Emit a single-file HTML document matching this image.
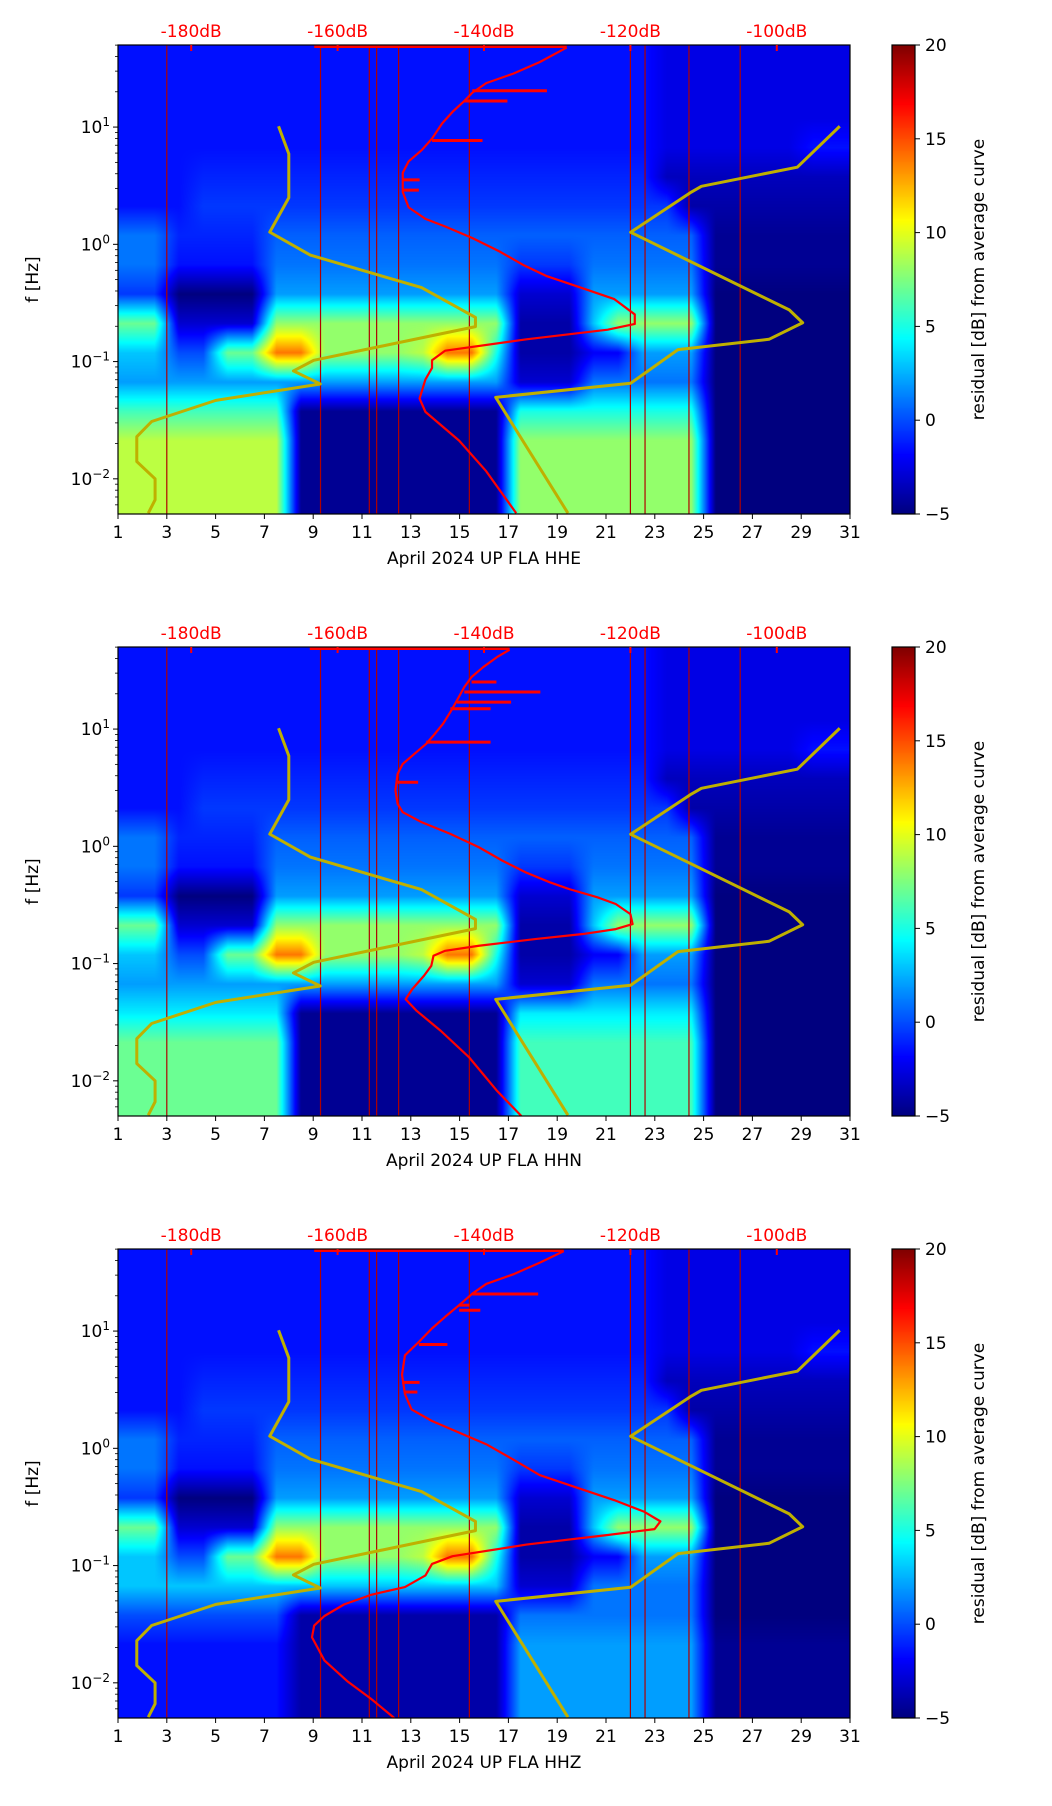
<!DOCTYPE html>
<html><head><meta charset="utf-8">
<style>
html,body{margin:0;padding:0;background:#fff;}
#root{position:relative;width:1052px;height:1806px;overflow:hidden;font-family:"DejaVu Sans","Liberation Sans",sans-serif;}
canvas{position:absolute;}
svg{position:absolute;left:0;top:0;}
</style></head>
<body>
<div id="root">
<svg id="ov" width="1052" height="1806"></svg>
</div>
<script>
// ---------- data ----------
const days = [1,3,5,7,9,11,13,15,17,19,21,23,25,27,29,31];
const yTickExp = [-2,-1,0,1];
const dbTicks = [-180,-160,-140,-120,-100];
const cbTicks = [-5,0,5,10,15,20];
const channels = ["HHE","HHN","HHZ"];
// row centers (log10 f) of residual grid, 30 day bins each
const rowLogF = [1.575,1.325,1.075,0.825,0.575,0.325,0.075,-0.175,-0.425,-0.675,-0.925,-1.175,-1.425,-1.675,-1.925,-2.175];
// run-length encoded residual rows [value,count] (upper rows shared)
const upperRows = [
 [[-1.5,22],[-2.5,8]],
 [[-1.5,22],[-2.5,8]],
 [[-1.5,22],[-2.5,8]],
 [[-1.5,22],[-2.5,6],[-1.5,2]],
 [[-1.5,3],[-1,19],[-3.5,8]],
 [[-1.5,3],[-0.5,20],[-4,7]],
 [[1,2],[-1,4],[0.5,18],[-4.5,6]],
 [[1,2],[-1.5,4],[1,10],[-0.5,3],[1,5],[-4.5,6]],
 [[-0.5,2],[-5,4],[2,10],[-3,3],[2,5],[-5,6]],
 [[7,2],[-3,4],[8,10],[-4,3],[3,1],[8,4],[-5,6]],
 [[3,2],[0,2],[7,2],[14,2],[8,4],[9,1],[14,2],[5,1],[-4,3],[-2,2],[2,3],[-5,6]]
];
const lowRowsHHE = [
 [[2,16],[-3,3],[1,5],[-5,6]],
 [[6,7],[-4.5,9],[5,8],[-5,6]],
 [[9,7],[-4.5,9],[8,8],[-5,6]],
 [[9,7],[-4.5,9],[8,8],[-5,6]],
 [[9,7],[-4.5,9],[8,8],[-5,6]]
];
const lowRowsHHN = [
 [[2,16],[-3,3],[1,5],[-5,6]],
 [[4,7],[-4.5,9],[4,8],[-5,6]],
 [[7,7],[-4.5,9],[6,8],[-5,6]],
 [[7,7],[-4.5,9],[6,8],[-5,6]],
 [[7,7],[-4.5,9],[6,8],[-5,6]]
];
const lowRowsHHZ = [
 [[3,16],[-3,3],[1,5],[-5,6]],
 [[0,7],[-4,9],[1,8],[-5,6]],
 [[-1.5,7],[-4,9],[2,8],[-4.5,6]],
 [[-1.5,7],[-4,9],[2,8],[-4.5,6]],
 [[-1.5,7],[-4,9],[2,8],[-4.5,6]]
];
const vLineDays = [3.0,9.3,11.3,11.6,12.5,15.4,22.0,22.6,24.4,26.5];
// yellow reference curves (day, log10 f)
const yelLeftDay = [7.58,8.0,8.0,7.22,8.88,13.44,15.65,15.65,9.02,8.19,9.29,5.01,2.38,1.77,1.77,2.52,2.52,2.24];
const yelLeftLogF = [1.007,0.772,0.397,0.104,-0.092,-0.369,-0.624,-0.702,-0.989,-1.080,-1.191,-1.331,-1.511,-1.641,-1.853,-2.0,-2.179,-2.293];
const yelRightDay = [30.58,28.84,24.91,24.5,22.01,28.51,29.06,27.68,23.95,22.01,16.48,19.44];
const yelRightLogF = [1.007,0.658,0.495,0.446,0.103,-0.559,-0.669,-0.810,-0.898,-1.185,-1.305,-2.293];
// red average PSD curves (dB, log10 f)
const redHHEdB = [-128.7,-132.4,-136.0,-139.7,-141.6,-142.7,-144.3,-145.7,-147.1,-148.5,-150.3,-151.1,-151.1,-150.3,-148.0,-145.3,-141.6,-137.9,-134.7,-131.4,-126.8,-122.2,-119.4,-119.4,-123.1,-134.2,-145.3,-147.1,-147.1,-148.0,-148.8,-148.0,-143.4,-139.7,-135.6];
const redHHELogF = [1.678,1.554,1.456,1.375,1.293,1.222,1.130,1.033,0.902,0.804,0.707,0.609,0.446,0.315,0.217,0.152,0.054,-0.060,-0.174,-0.272,-0.369,-0.467,-0.598,-0.679,-0.728,-0.810,-0.907,-0.989,-1.054,-1.152,-1.315,-1.429,-1.674,-1.935,-2.293];
const spikeHHEdB = [-131.4,-136.8,-140.2,-148.8,-148.9];
const spikeHHELogF = [1.31,1.222,0.886,0.55,0.462];
const redHHNdB = [-136.5,-138.2,-140.1,-141.7,-142.7,-143.7,-144.6,-145.6,-146.9,-147.9,-149.5,-151.1,-151.8,-152.1,-151.8,-151.1,-148.5,-144.6,-140.7,-137.5,-134.3,-131.0,-128.4,-124.5,-122.0,-120.0,-119.7,-122.0,-126.5,-133.0,-140.7,-145.3,-146.9,-147.2,-148.2,-149.8,-150.7,-149.2,-145.9,-142.0,-138.2,-134.9];
const redHHNLogF = [1.677,1.615,1.529,1.444,1.358,1.244,1.145,1.045,0.946,0.874,0.789,0.703,0.618,0.476,0.362,0.291,0.205,0.106,-0.008,-0.122,-0.222,-0.307,-0.364,-0.435,-0.492,-0.578,-0.663,-0.706,-0.748,-0.791,-0.848,-0.891,-0.933,-1.019,-1.104,-1.218,-1.304,-1.403,-1.574,-1.802,-2.087,-2.3];
const spikeHHNdB = [-138.3,-132.3,-136.3,-139.1,-139.1,-149.0];
const spikeHHNLogF = [1.401,1.316,1.230,1.173,0.889,0.547];
const redHHZdB = [-129.1,-132.4,-136.0,-139.7,-141.6,-143.4,-145.3,-147.1,-148.9,-150.8,-151.2,-150.8,-149.9,-147.1,-143.4,-139.7,-136.0,-132.4,-127.7,-122.2,-118.1,-115.9,-116.7,-123.1,-134.2,-144.3,-147.1,-148.0,-150.8,-155.4,-159.1,-161.8,-163.2,-163.5,-161.8,-158.6,-155.4,-152.2];
const redHHZLogF = [1.682,1.583,1.484,1.402,1.319,1.221,1.122,1.023,0.908,0.793,0.628,0.463,0.332,0.233,0.134,0.035,-0.096,-0.228,-0.327,-0.442,-0.541,-0.623,-0.689,-0.739,-0.821,-0.920,-0.986,-1.084,-1.183,-1.249,-1.331,-1.430,-1.512,-1.611,-1.809,-1.990,-2.138,-2.303];
const spikeHHZdB = [-132.6,-142.0,-140.5,-145.0,-148.8,-149.1];
const spikeHHZLogF = [1.316,1.221,1.178,0.885,0.562,0.480];
const topLineStart = [-163.2,-163.8,-163.2];

// ---------- layout ----------
const PL=118, PR=850, PH=469, tops=[45,647,1249];
const CBL=892, CBR=915;
const DAYMIN=1, DAYMAX=31, LFMIN=-2.3, LFMAX=1.7, DBMIN=-190, DBMAX=-90, VMIN=-5, VMAX=20;
const xDay = d => PL + (d-DAYMIN)/(DAYMAX-DAYMIN)*(PR-PL);
const xDb = v => PL + (v-DBMIN)/(DBMAX-DBMIN)*(PR-PL);
const yLf = (top,l) => top + (LFMAX-l)/(LFMAX-LFMIN)*PH;

function jet(v){
  let t=(v-VMIN)/(VMAX-VMIN); t=Math.max(0,Math.min(1,t));
  const f=x=>Math.max(0,Math.min(1,x));
  const r=f(Math.min(4*t-1.5,-4*t+4.5)), g=f(Math.min(4*t-0.5,-4*t+3.5)), b=f(Math.min(4*t+0.5,-4*t+2.5));
  return [r*255|0,g*255|0,b*255|0];
}
function expand(rle){const o=[];rle.forEach(([v,n])=>{for(let i=0;i<n;i++)o.push(v);});return o;}

const NS='http://www.w3.org/2000/svg';
const ov=document.getElementById('ov');
function el(tag,attrs,parent){const e=document.createElementNS(NS,tag);for(const k in attrs)e.setAttribute(k,attrs[k]);(parent||ov).appendChild(e);return e;}
function txt(s,attrs,parent){const e=el('text',attrs,parent);e.textContent=s;return e;}

const lowSets=[lowRowsHHE,lowRowsHHN,lowRowsHHZ];
const reds=[[redHHEdB,redHHELogF,spikeHHEdB,spikeHHELogF],[redHHNdB,redHHNLogF,spikeHHNdB,spikeHHNLogF],[redHHZdB,redHHZLogF,spikeHHZdB,spikeHHZLogF]];
const root=document.getElementById('root');

channels.forEach((ch,pi)=>{
  const top=tops[pi];
  const grid=upperRows.concat(lowSets[pi]).map(expand);
  const cv=document.createElement('canvas');
  cv.width=PR-PL; cv.height=PH;
  cv.style.left=PL+'px'; cv.style.top=top+'px';
  
  
  root.insertBefore(cv,ov);
  const ctx=cv.getContext('2d');
  const img=ctx.createImageData(cv.width,cv.height);
  for(let py=0;py<cv.height;py++){
    const lf=LFMAX-(py+0.5)/PH*(LFMAX-LFMIN);
    let ri=(rowLogF[0]-lf)/(rowLogF[0]-rowLogF[1]);
    ri=Math.max(0,Math.min(rowLogF.length-1,ri));
    const r0=Math.floor(ri), r1=Math.min(rowLogF.length-1,r0+1), fr=ri-r0;
    for(let px=0;px<cv.width;px++){
      const d=(px+0.5)/cv.width*30-0.5;
      let c0=Math.max(0,Math.min(29,Math.floor(d))), c1=Math.min(29,c0+1), fc=Math.max(0,Math.min(1,d-c0));
      const v=(grid[r0][c0]*(1-fc)+grid[r0][c1]*fc)*(1-fr)+(grid[r1][c0]*(1-fc)+grid[r1][c1]*fc)*fr;
      const [r,g,b]=jet(v); const k=(py*cv.width+px)*4;
      img.data[k]=r;img.data[k+1]=g;img.data[k+2]=b;img.data[k+3]=255;
    }
  }
  ctx.putImageData(img,0,0);

  const g=el('g',{});
  
  
  const clipId='clip'+pi;
  const cp=el('clipPath',{id:clipId},g); el('rect',{x:PL,y:top,width:PR-PL,height:PH},cp);
  const inner=el('g',{'clip-path':'url(#'+clipId+')'},g);
  vLineDays.forEach(d=>{
    const l=el('line',{x1:xDay(d),x2:xDay(d),y1:top,y2:top+PH,stroke:'#b00000','stroke-width':1.2},inner);
    
    
  });
  [[yelLeftDay,yelLeftLogF],[yelRightDay,yelRightLogF]].forEach(([ds,ls],k)=>{
    const pts=ds.map((d,i)=>xDay(d)+','+yLf(top,ls[i])).join(' ');
    const p=el('polyline',{points:pts,fill:'none',stroke:'#bfb000','stroke-width':3,'stroke-linejoin':'round'},inner);
    
    
  });
  const [rd,rl,sd,sl]=reds[pi];
  const topL=el('line',{x1:xDb(topLineStart[pi]),x2:xDb(rd[0]),y1:top+1.5,y2:top+1.5,stroke:'#ff0000','stroke-width':3},inner);
  
  
  const rp=el('polyline',{points:rd.map((v,i)=>xDb(v)+','+yLf(top,rl[i])).join(' '),fill:'none',stroke:'#ff0000','stroke-width':2.2,'stroke-linejoin':'round'},inner);
  
  
  sd.forEach((v,i)=>{
    let best=0,bd=1e9; rl.forEach((l,j)=>{const dd=Math.abs(l-sl[i]);if(dd<bd){bd=dd;best=j;}});
    const s=el('line',{x1:xDb(rd[best]),x2:xDb(v),y1:yLf(top,sl[i]),y2:yLf(top,sl[i]),stroke:'#ff0000','stroke-width':3},inner);
    
    
  });
  const fr=el('rect',{x:PL,y:top,width:PR-PL,height:PH,fill:'none',stroke:'#000','stroke-width':1.2},g);
  
  
  days.forEach(d=>{
    el('line',{x1:xDay(d),x2:xDay(d),y1:top+PH,y2:top+PH+5,stroke:'#000','stroke-width':1},g);
    const t=txt(String(d),{x:xDay(d),y:top+PH+24,'font-size':17,'text-anchor':'middle',fill:'#000'},g);
    
    
  });
  const xl=txt('April 2024 UP FLA  '+ch,{x:(PL+PR)/2,y:top+PH+50,'font-size':17,'text-anchor':'middle',fill:'#000','xml:space':'preserve'},g);
  
  
  for(let e=-3;e<=1;e++){
    for(let m=1;m<10;m++){
      const l=e+Math.log10(m); if(l<LFMIN||l>LFMAX)continue;
      const y=yLf(top,l);
      el('line',{x1:PL-(m===1?5:3),x2:PL,y1:y,y2:y,stroke:'#000','stroke-width':m===1?1:0.8},g);
    }
  }
  yTickExp.forEach(e=>{
    const y=yLf(top,e);
    const t=el('text',{x:PL-8,y:y+6,'font-size':17,'text-anchor':'end',fill:'#000'},g);
    
    
    t.appendChild(document.createTextNode('10'));
    const sp=document.createElementNS(NS,'tspan'); sp.setAttribute('dy',-7); sp.setAttribute('font-size',12);
    sp.textContent=(e<0?'\u2212':'')+Math.abs(e); t.appendChild(sp);
  });
  const yl=txt('f [Hz]',{x:0,y:0,'font-size':17,'text-anchor':'middle',fill:'#000',transform:'translate(38,'+(top+PH/2)+') rotate(-90)'},g);
  
  
  dbTicks.forEach(v=>{
    el('line',{x1:xDb(v),x2:xDb(v),y1:top,y2:top+6,stroke:'#ff0000','stroke-width':2},g);
    const t=txt(v+'dB',{x:xDb(v),y:top-8,'font-size':17,'text-anchor':'middle',fill:'#ff0000'},g);
    
    
  });
  const cb=document.createElement('canvas');
  cb.width=CBR-CBL; cb.height=PH; cb.style.left=CBL+'px'; cb.style.top=top+'px';
  
  
  root.insertBefore(cb,ov);
  const c2=cb.getContext('2d');
  for(let py=0;py<PH;py++){const v=VMAX-(py+0.5)/PH*(VMAX-VMIN);const [r,gg,b]=jet(v);c2.fillStyle='rgb('+r+','+gg+','+b+')';c2.fillRect(0,py,cb.width,1);}
  el('rect',{x:CBL,y:top,width:CBR-CBL,height:PH,fill:'none',stroke:'#000','stroke-width':1.2},g);
  cbTicks.forEach(v=>{
    const y=top+(VMAX-v)/(VMAX-VMIN)*PH;
    el('line',{x1:CBR,x2:CBR+5,y1:y,y2:y,stroke:'#000','stroke-width':1},g);
    const t=txt(v<0?'\u2212'+Math.abs(v):String(v),{x:CBR+10,y:y+6,'font-size':17,fill:'#000'},g);
    
    
  });
  const cl=txt('residual [dB] from average curve',{x:0,y:0,'font-size':17,'text-anchor':'middle',fill:'#000',transform:'translate(984,'+(top+PH/2)+') rotate(-90)'},g);
  
  
});
</script>
</body></html>
